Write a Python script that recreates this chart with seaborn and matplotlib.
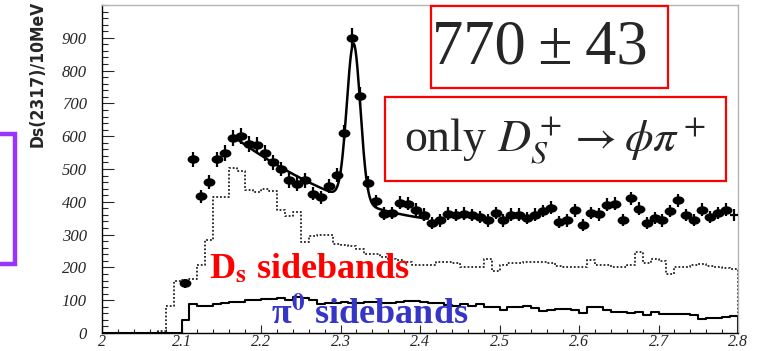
import numpy as np
import pandas as pd
import matplotlib
matplotlib.use("Agg")
import matplotlib.pyplot as plt
import seaborn as sns
from matplotlib.path import Path
from matplotlib.patches import Rectangle
from matplotlib.lines import Line2D
from matplotlib.font_manager import FontProperties
from matplotlib.ticker import MultipleLocator, FixedLocator

# ---------------------------------------------------------------- data
# D_s(2317) candidates per 10 MeV bin, bin centres from 2.105 to 2.795 GeV
bin_width = 0.01
signal_centres = np.round(2.105 + bin_width * np.arange(70), 3)
signal_counts = [
    151, 529, 417, 460, 529, 549, 594, 600, 577, 573,
    549, 521, 500, 465, 453, 465, 425, 414, 447, 482,
    610, 899, 723, 458, 401, 364, 366, 397, 394, 376,
    361, 335, 343, 364, 359, 364, 359, 354, 343, 366,
    343, 361, 361, 350, 361, 372, 382, 338, 343, 374,
    330, 366, 362, 391, 394, 345, 411, 379, 336, 350,
    343, 372, 404, 359, 345, 376, 354, 366, 376, 359,
]

# histogram binning 2.00 .. 2.81 GeV (last bin is empty and closes the outline)
hist_edges = np.round(np.arange(2.00, 2.8151, bin_width), 2)
hist_centres = np.round(hist_edges[:-1] + bin_width / 2, 3)

# D_s mass sidebands (dotted)
ds_sideband = [
    0, 0, 0, 0, 0, 0, 0, 5, 82, 158,
    163, 166, 207, 283, 414, 414, 504, 495, 436, 431,
    438, 433, 374, 357, 370, 276, 296, 298, 298, 271,
    268, 265, 255, 242, 240, 232, 226, 222, 215, 207,
    207, 207, 217, 215, 212, 200, 200, 200, 225, 189,
    207, 212, 212, 217, 217, 217, 212, 205, 202, 200,
    200, 224, 207, 207, 200, 200, 207, 247, 212, 225,
    220, 181, 200, 200, 207, 210, 205, 200, 197, 195,
    0,
]

# pi0 sidebands (solid)
pi0_sideband = [
    0, 0, 0, 0, 0, 0, 0, 0, 0, 0,
    40, 88, 83, 83, 88, 90, 95, 95, 100, 100,
    103, 103, 107, 102, 110, 107, 100, 88, 90, 92,
    95, 92, 92, 95, 95, 92, 92, 95, 97, 97,
    95, 92, 90, 85, 82, 87, 82, 87, 80, 78,
    70, 78, 78, 82, 75, 67, 70, 72, 72, 70,
    60, 78, 78, 70, 63, 65, 60, 65, 55, 65,
    57, 57, 57, 57, 55, 42, 45, 45, 48, 52,
    0,
]

# fit: Gaussian signal on a quadratic background, drawn over the fit range
fit_range = (2.171, 2.41)
fit_mean, fit_sigma, fit_amp = 2.3165, 0.0085, 480.0
bg_x0, bg_c0, bg_c1, bg_c2 = 2.171, 589.0, -1715.0, 2964.0

x_ticks = [2.0, 2.1, 2.2, 2.3, 2.4, 2.5, 2.6, 2.7, 2.8]
x_ticklabels = ["2", "2.1", "2.2", "2.3", "2.4", "2.5", "2.6", "2.7", "2.8"]
y_ticks = [0, 100, 200, 300, 400, 500, 600, 700, 800, 900]
y_ticklabels = [str(v) for v in y_ticks]

yield_label = "770\u2009\u00b1\u200943"
channel_label = r"only $D_S^+\rightarrow\phi\pi^+$"
ds_label = r"D$_\mathbf{s}$ sidebands"
pi0_label = "\u03c0$^\\mathbf{0}$ sidebands"
y_title = "Ds(2317)/10MeV"

# ---------------------------------------------------------------- style
sns.set_style("ticks")
plt.rcParams["font.family"] = ["Liberation Serif", "DejaVu Serif"]
plt.rcParams["mathtext.fontset"] = "stix"

W, H = 767, 351
fig = plt.figure(figsize=(W / 100, H / 100), dpi=100)
fig.patch.set_facecolor("white")
ax = fig.add_axes([102 / W, 18 / H, 636 / W, 328 / H])
ax.set_facecolor("white")

hist_df = pd.DataFrame({"mass": hist_centres, "ds": ds_sideband, "pi0": pi0_sideband})
edge_list = [float(e) for e in hist_edges]

sns.histplot(data=hist_df, x="mass", weights="ds", bins=edge_list,
             element="step", fill=False, color="#222222",
             linestyle=(0, (1.0, 1.1)), linewidth=1.3, ax=ax)
sns.histplot(data=hist_df, x="mass", weights="pi0", bins=edge_list,
             element="step", fill=False, color="black",
             linewidth=1.5, ax=ax)

# fitted curve
m = np.linspace(fit_range[0], fit_range[1], 400)
t = m - bg_x0
fit_curve = (bg_c0 + bg_c1 * t + bg_c2 * t ** 2
             + fit_amp * np.exp(-0.5 * ((m - fit_mean) / fit_sigma) ** 2))
sns.lineplot(x=m, y=fit_curve, color="black", linewidth=1.8, ax=ax, zorder=4)

# data points with error bars
counts = np.asarray(signal_counts, dtype=float)
ax.errorbar(signal_centres, counts, yerr=np.sqrt(counts), xerr=bin_width / 2,
            fmt="none", ecolor="black", elinewidth=1.6, capsize=0, zorder=5)
circle = Path.unit_circle()
ellipse = Path(circle.vertices * np.array([1.0, 0.68]), circle.codes)
ax.plot(signal_centres[:-1], counts[:-1], linestyle="none", marker=ellipse,
        markersize=7.5, color="black", zorder=6)

# axes
ax.set_xlim(2.0, 2.8)
ax.set_ylim(0, 1000)
ax.set_xlabel("")
ax.set_ylabel("")
ax.xaxis.set_major_locator(FixedLocator(x_ticks))
ax.xaxis.set_minor_locator(MultipleLocator(0.02))
ax.yaxis.set_major_locator(FixedLocator(y_ticks))
ax.yaxis.set_minor_locator(MultipleLocator(20))
ax.tick_params(axis="y", which="major", direction="in", length=8.5, width=0.8, pad=11)
ax.tick_params(axis="y", which="minor", direction="in", length=4.5, width=0.8)
ax.tick_params(axis="x", which="major", direction="in", length=6, width=0.8, pad=0.5)
ax.tick_params(axis="x", which="minor", direction="in", length=3, width=0.8)
ax.set_xticklabels(x_ticklabels)
ax.set_yticklabels(y_ticklabels)
x_tick_font = FontProperties(family="Liberation Serif", style="italic", size=11.5)
y_tick_font = FontProperties(family="Liberation Serif", style="italic", size=12)
for lbl in ax.get_xticklabels():
    lbl.set_fontproperties(x_tick_font)
for lbl in ax.get_yticklabels():
    lbl.set_fontproperties(y_tick_font)

for side in ("left", "bottom"):
    ax.spines[side].set_color("black")
    ax.spines[side].set_linewidth(1.0)
for side in ("top", "right"):
    ax.spines[side].set_visible(True)
    ax.spines[side].set_color("#b4b4b4")
    ax.spines[side].set_linewidth(1.0)

# annotations (figure pixel positions)
def fx(px):
    return px / W

def fy(py):
    return 1 - py / H

fig.text(fx(38), fy(1), y_title, rotation=90, ha="center", va="top",
         fontproperties=FontProperties(family="DejaVu Sans", weight="bold",
                                       stretch="condensed", size=12.5))

fig.add_artist(Rectangle((fx(431), fy(88)), fx(668) - fx(431), fy(6) - fy(88),
                         transform=fig.transFigure, fill=False,
                         edgecolor="red", linewidth=1.6))
fig.text(fx(540), fy(63), yield_label, ha="center", va="baseline", fontsize=45)

fig.add_artist(Rectangle((fx(385), fy(181)), fx(726) - fx(385), fy(97) - fy(181),
                         transform=fig.transFigure, fill=False,
                         edgecolor="red", linewidth=1.6))
fig.text(fx(555), fy(151), channel_label, ha="center", va="baseline", fontsize=33)

fig.text(fx(209), fy(278), ds_label, ha="left", va="baseline", fontsize=26,
         fontweight="bold", color="#ff0000")
fig.text(fx(271), fy(324), pi0_label, ha="left", va="baseline", fontsize=26,
         fontweight="bold", color="#3535c8")

# purple bracket at the left edge
fig.add_artist(Line2D([fx(0), fx(14.5), fx(14.5), fx(0)],
                      [fy(133.5), fy(133.5), fy(263.5), fy(263.5)],
                      transform=fig.transFigure, color="#9933ff",
                      linewidth=3.2, solid_joinstyle="miter"))

fig.savefig("out.png", dpi=100)
